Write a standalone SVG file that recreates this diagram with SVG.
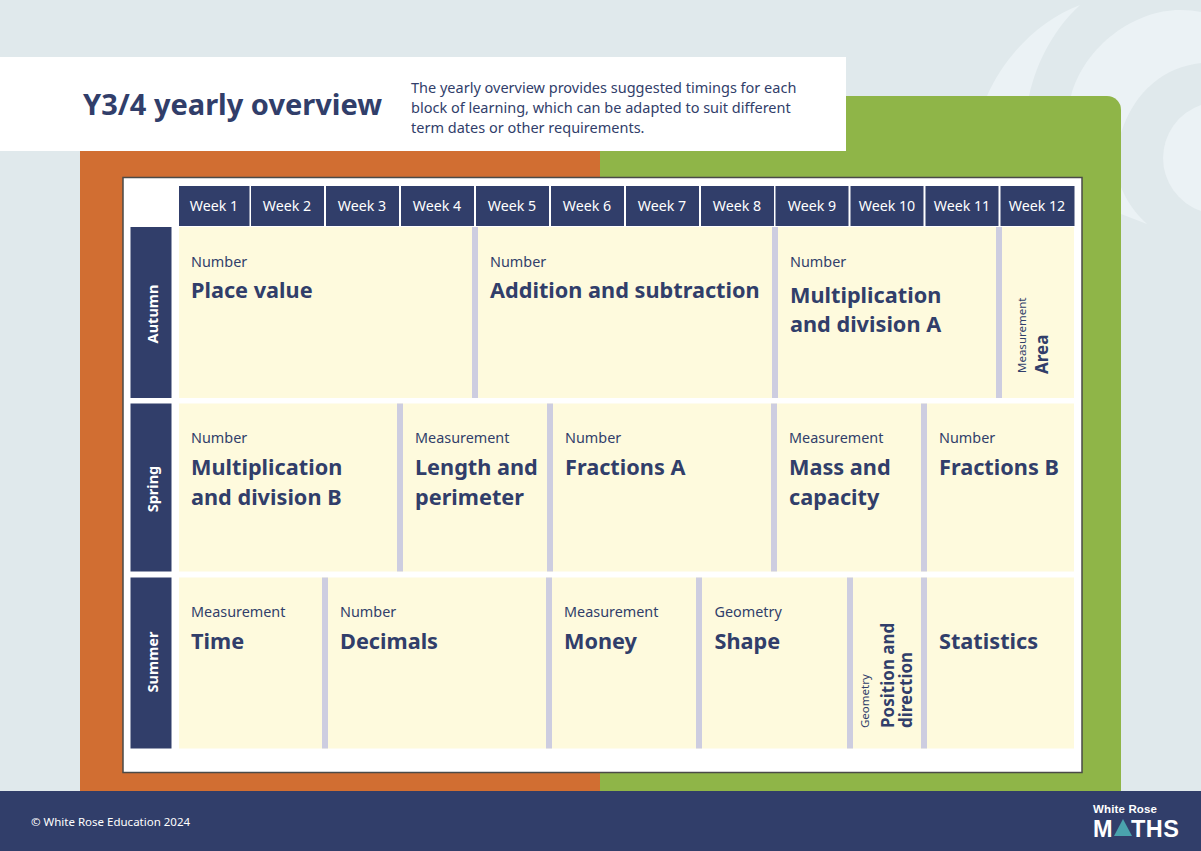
<svg xmlns="http://www.w3.org/2000/svg" width="1201" height="851" viewBox="0 0 1201 851">
<style>
text{font-family:"Noto Sans","Open Sans","Liberation Sans",sans-serif;fill:#313e6a}
.wk{fill:#fff;font-size:14.200px;text-anchor:middle}
.hd{fill:#313e6a}
.sn{fill:#fff;font-size:14.500px;font-weight:700;text-anchor:middle}
.c{fill:#fefadd}
.b{fill:#cdcde0}
.s{font-size:14.400px}
.t{font-size:21.700px;font-weight:700}
.sv{font-size:11.500px}
.tv{font-size:17px;font-weight:700}
.d{font-size:14.500px}
.w{fill:#fff}
</style>
<g id="background">
<rect width="1201" height="851" fill="#e0e9ec"/>
<path d="M1080 5C1040 20 1005 55 987 96L1029 96C1037 60 1055 28 1080 5Z" fill="#ebf2f5"/>
<path d="M1071 96C1085 45 1135 10 1180 10Q1192 10 1201 12V63C1165 67 1135 90 1121 133L1121 187C1126 200 1135 213 1147 224L1121 214Z" fill="#ebf2f5"/>
<path d="M1201 105A56 56 0 0 0 1201 211Z" fill="#ebf2f5"/>
</g>
<g id="frame">
<path d="M600 96H1107A14 14 0 0 1 1121 110V791H600Z" fill="#8fb548"/>
<rect x="80" y="150" width="520" height="641" fill="#d16e32"/>
<rect x="123" y="177.500" width="959" height="595" fill="#fff" stroke="#4a4a48" stroke-width="1.500"/>
</g>
<g id="title">
<rect y="57" width="846" height="94" fill="#fff"/>
<text x="83" y="115" font-size="29" font-weight="700">Y3/4 yearly overview</text>
<text x="411" y="93" class="d">The yearly overview provides suggested timings for each</text>
<text x="411" y="113" class="d">block of learning, which can be adapted to suit different</text>
<text x="411" y="133" class="d">term dates or other requirements.</text>
</g>
<g id="weeks">
<rect class="hd" x="179" y="186" width="70.500" height="40"/><text class="wk" x="214" y="211">Week 1</text>
<rect class="hd" x="251" y="186" width="73" height="40"/><text class="wk" x="287" y="211">Week 2</text>
<rect class="hd" x="326" y="186" width="73" height="40"/><text class="wk" x="362" y="211">Week 3</text>
<rect class="hd" x="401" y="186" width="73" height="40"/><text class="wk" x="437" y="211">Week 4</text>
<rect class="hd" x="476" y="186" width="73" height="40"/><text class="wk" x="512" y="211">Week 5</text>
<rect class="hd" x="551" y="186" width="73" height="40"/><text class="wk" x="587" y="211">Week 6</text>
<rect class="hd" x="626" y="186" width="73" height="40"/><text class="wk" x="662" y="211">Week 7</text>
<rect class="hd" x="701" y="186" width="73" height="40"/><text class="wk" x="737" y="211">Week 8</text>
<rect class="hd" x="775.500" y="186" width="73" height="40"/><text class="wk" x="812" y="211">Week 9</text>
<rect class="hd" x="850.500" y="186" width="73" height="40"/><text class="wk" x="887" y="211">Week 10</text>
<rect class="hd" x="925.500" y="186" width="73" height="40"/><text class="wk" x="962" y="211">Week 11</text>
<rect class="hd" x="1000.500" y="186" width="74" height="40"/><text class="wk" x="1037" y="211">Week 12</text>
</g>
<g id="terms">
<rect class="hd" x="130.500" y="227" width="41" height="171"/><text class="sn" transform="translate(158,314) rotate(-90)">Autumn</text>
<rect class="hd" x="130.500" y="403.500" width="41" height="168"/><text class="sn" transform="translate(158,489) rotate(-90)">Spring</text>
<rect class="hd" x="130.500" y="577.500" width="41" height="171"/><text class="sn" transform="translate(158,662) rotate(-90)">Summer</text>
</g>
<g id="autumn">
<rect class="c" x="179" y="227" width="895" height="171"/>
<rect class="b" x="472" y="227" width="6" height="171"/><rect class="b" x="772" y="227" width="6" height="171"/><rect class="b" x="996" y="227" width="6" height="171"/>
<text class="s" x="191" y="267">Number</text><text class="t" x="191" y="298">Place value</text>
<text class="s" x="490" y="267">Number</text><text class="t" x="490" y="298">Addition and subtraction</text>
<text class="s" x="790" y="267">Number</text><text class="t" x="790" y="303">Multiplication</text><text class="t" x="790" y="332">and division A</text>
<text class="sv" transform="translate(1026,373) rotate(-90)">Measurement</text><text class="tv" transform="translate(1048,374) rotate(-90)">Area</text>
</g>
<g id="spring">
<rect class="c" x="179" y="403.500" width="895" height="168"/>
<rect class="b" x="397" y="403.500" width="6" height="168"/><rect class="b" x="547" y="403.500" width="6" height="168"/><rect class="b" x="771" y="403.500" width="6" height="168"/><rect class="b" x="921" y="403.500" width="6" height="168"/>
<text class="s" x="191" y="443">Number</text><text class="t" x="191" y="475">Multiplication</text><text class="t" x="191" y="505">and division B</text>
<text class="s" x="415" y="443">Measurement</text><text class="t" x="415" y="475">Length and</text><text class="t" x="415" y="505">perimeter</text>
<text class="s" x="565" y="443">Number</text><text class="t" x="565" y="475">Fractions A</text>
<text class="s" x="789" y="443">Measurement</text><text class="t" x="789" y="475">Mass and</text><text class="t" x="789" y="505">capacity</text>
<text class="s" x="939" y="443">Number</text><text class="t" x="939" y="475">Fractions B</text>
</g>
<g id="summer">
<rect class="c" x="179" y="577.500" width="895" height="171"/>
<rect class="b" x="322" y="577.500" width="6" height="171"/><rect class="b" x="546" y="577.500" width="6" height="171"/><rect class="b" x="696" y="577.500" width="6" height="171"/><rect class="b" x="847" y="577.500" width="6" height="171"/><rect class="b" x="921" y="577.500" width="6" height="171"/>
<text class="s" x="191" y="617">Measurement</text><text class="t" x="191" y="649">Time</text>
<text class="s" x="340" y="617">Number</text><text class="t" x="340" y="649">Decimals</text>
<text class="s" x="564" y="617">Measurement</text><text class="t" x="564" y="649">Money</text>
<text class="s" x="714.500" y="617">Geometry</text><text class="t" x="714.500" y="649">Shape</text>
<text class="sv" transform="translate(869,728) rotate(-90)">Geometry</text><text class="tv" transform="translate(894,728) rotate(-90)">Position and</text><text class="tv" transform="translate(912,728) rotate(-90)">direction</text>
<text class="t" x="939" y="649">Statistics</text>
</g>
<g id="footer">
<rect y="791" width="1201" height="60" fill="#313e6a"/>
<text x="31" y="826" font-size="11.500" class="w" style="fill:#fff">© White Rose Education 2024</text>
<text x="1093" y="813" font-size="11.500" font-weight="700" style="fill:#fff;font-family:'Liberation Sans',sans-serif" textLength="64">White Rose</text>
<text x="1093" y="836.500" font-size="23.500" font-weight="700" style="fill:#fff;font-family:'Liberation Sans',sans-serif">M</text>
<path d="M1123 819L1132 836H1114Z" fill="#4aa3ad"/>
<text x="1131" y="836.500" font-size="23.500" font-weight="700" style="fill:#fff;font-family:'Liberation Sans',sans-serif" textLength="48">THS</text>
</g>
</svg>
